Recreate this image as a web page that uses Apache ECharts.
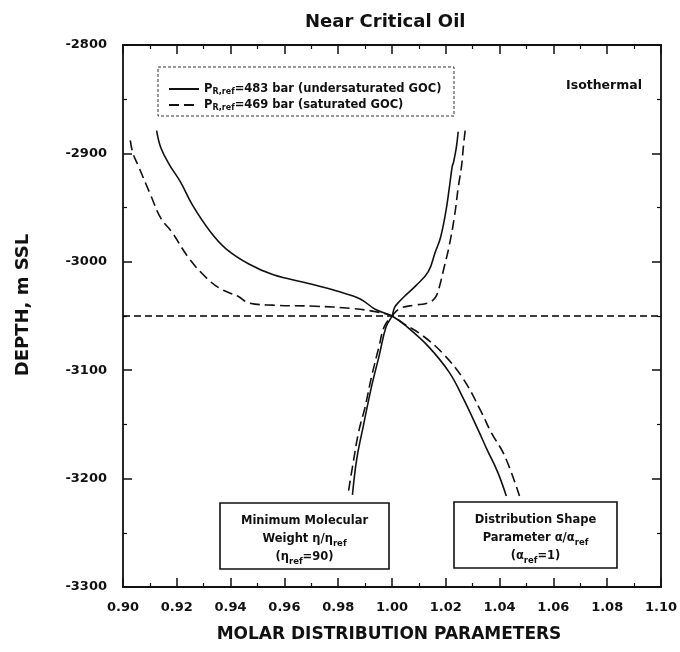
<!DOCTYPE html>
<html>
<head>
<meta charset="utf-8">
<script src="https://cdn.jsdelivr.net/npm/echarts@6/dist/echarts.min.js"></script>
<style>
  html, body { margin: 0; padding: 0; background: #ffffff; }
  #chart { width: 680px; height: 652px; }
</style>
</head>
<body>
<div id="chart"></div>
<script>
// Axis ranges
const paramMin = 0.90, paramMax = 1.10, paramStep = 0.02;
const depthMin = -3300, depthMax = -2800, depthStep = 100;

// Case labels (legend)
const caseUndersat = 'PR,ref=483 bar (undersaturated GOC)';
const caseSat = 'PR,ref=469 bar (saturated GOC)';

// Distribution shape parameter α/αref vs depth
const alphaUndersatX = [0.9125, 0.9141, 0.9174, 0.9213, 0.9259, 0.9324, 0.9383, 0.9468, 0.9559, 0.9690, 0.9795, 0.9880, 0.9939, 1.0000, 1.0056, 1.0135, 1.0213, 1.0265, 1.0322, 1.0353, 1.0393, 1.0425];
const alphaUndersatDepth = [-2879, -2895, -2911, -2926, -2948, -2972, -2988, -3002, -3012, -3020, -3027, -3034, -3044, -3050, -3060, -3078, -3102, -3126, -3156, -3173, -3194, -3216];

const alphaSatX = [0.9027, 0.9037, 0.9056, 0.9102, 0.9141, 0.9180, 0.9246, 0.9311, 0.9363, 0.9429, 0.9468, 0.9559, 0.9716, 0.9847, 0.9939, 1.0000, 1.0043, 1.0108, 1.0187, 1.0265, 1.0331, 1.0368, 1.0419, 1.0474];
const alphaSatDepth = [-2888, -2900, -2911, -2938, -2960, -2972, -2997, -3015, -3025, -3032, -3038, -3040, -3041, -3043, -3046, -3050, -3057, -3067, -3084, -3108, -3138, -3157, -3179, -3216];

// Minimum molecular weight η/ηref vs depth
const etaUndersatX = [1.0246, 1.0239, 1.0229, 1.0224, 1.0213, 1.0200, 1.0180, 1.0161, 1.0135, 1.0089, 1.0050, 1.0030, 1.0010, 1.0000, 0.9978, 0.9952, 0.9925, 0.9893, 0.9869, 0.9853];
const etaUndersatDepth = [-2880, -2895, -2908, -2912, -2932, -2954, -2978, -2991, -3009, -3022, -3031, -3036, -3042, -3050, -3060, -3087, -3114, -3152, -3182, -3215];

const etaSatX = [1.0272, 1.0265, 1.0259, 1.0246, 1.0233, 1.0213, 1.0193, 1.0174, 1.0161, 1.0135, 1.0082, 1.0030, 1.0000, 0.9971, 0.9952, 0.9925, 0.9899, 0.9876, 0.9856, 0.9836];
const etaSatDepth = [-2879, -2895, -2911, -2932, -2957, -2985, -3006, -3025, -3033, -3038, -3040, -3043, -3050, -3060, -3078, -3105, -3135, -3157, -3185, -3215];

// Gas-oil contact line
const gocX = [0.90, 1.10];
const gocDepth = [-3050, -3050];

const FONT = 'DejaVu Sans';
const INK = '#111111';

function pairs(xs, ys) { return xs.map((x, i) => [x, ys[i]]); }

const chart = echarts.init(document.getElementById('chart'), null, { renderer: 'canvas' });

const axisCommon = {
  axisLine: { show: true, lineStyle: { color: INK, width: 1.8 } },
  axisTick: { show: true, inside: true, length: 9, lineStyle: { color: INK, width: 1.5 } },
  minorTick: { show: true, splitNumber: 2, length: 4, lineStyle: { color: INK, width: 1.2 } },
  splitLine: { show: false },
  minorSplitLine: { show: false }
};

const labelStyle = { color: INK, fontFamily: FONT, fontWeight: 'bold', fontSize: 13 };

const solidLine = { color: INK, width: 1.6, type: 'solid' };
const dashLine = { color: INK, width: 1.6, type: [10, 5] };

function curve(name, xs, ys, lineStyle) {
  return {
    name: name,
    type: 'line',
    data: pairs(xs, ys),
    showSymbol: false,
    symbol: 'none',
    smooth: 0.4,
    lineStyle: lineStyle,
    itemStyle: { color: INK },
    emphasis: { disabled: true },
    silent: true,
    z: 3
  };
}

function legendText(name) {
  return name.replace('PR,ref', 'P{s|R,ref}');
}

const boxSub = { fill: INK, font: 'bold 8.5px "DejaVu Sans"', lineHeight: 10, verticalAlign: 'bottom' };

const option = {
  animation: false,
  backgroundColor: '#ffffff',
  grid: { left: 123, right: 17, top: 45, bottom: 65, containLabel: false },
  xAxis: [
    Object.assign({
      type: 'value', min: paramMin, max: paramMax, interval: paramStep, position: 'bottom',
      axisLabel: Object.assign({ margin: 14, formatter: v => v.toFixed(2) }, labelStyle)
    }, axisCommon),
    Object.assign({
      type: 'value', min: paramMin, max: paramMax, interval: paramStep, position: 'top',
      axisLabel: { show: false }
    }, axisCommon)
  ],
  yAxis: [
    Object.assign({
      type: 'value', min: depthMin, max: depthMax, interval: depthStep, position: 'left',
      axisLabel: Object.assign({ margin: 16, formatter: v => String(v) }, labelStyle)
    }, axisCommon),
    Object.assign({
      type: 'value', min: depthMin, max: depthMax, interval: depthStep, position: 'right',
      axisLabel: { show: false }
    }, axisCommon)
  ],
  title: {
    text: 'Near Critical Oil',
    left: 300, top: 8,
    textStyle: { color: INK, fontFamily: FONT, fontWeight: 'bold', fontSize: 18 }
  },
  legend: {
    data: [caseUndersat, caseSat],
    orient: 'vertical',
    left: 158, top: 67,
    padding: [15, 10, 4, 10],
    itemWidth: 30, itemHeight: 14, itemGap: 2,
    selectedMode: false,
    itemStyle: { opacity: 0 },
    formatter: legendText,
    textStyle: {
      color: INK, fontFamily: FONT, fontWeight: 'bold', fontSize: 11.5, lineHeight: 14,
      rich: {
        s: { color: INK, fontFamily: FONT, fontWeight: 'bold', fontSize: 8, lineHeight: 9, verticalAlign: 'bottom' }
      }
    }
  },
  graphic: [
    {
      type: 'rect', silent: true, z: 10,
      shape: { x: 158, y: 67, width: 296, height: 49 },
      style: { fill: null, stroke: '#333333', lineWidth: 1, lineDash: [3, 2] }
    },
    {
      type: 'text', silent: true, z: 10,
      x: 642, y: 86,
      style: { text: 'Isothermal', fill: INK, font: 'bold 12.5px "DejaVu Sans"', textAlign: 'right', textVerticalAlign: 'middle' }
    },
    {
      type: 'text', silent: true, z: 10,
      x: 389, y: 635,
      style: { text: 'MOLAR DISTRIBUTION PARAMETERS', fill: INK, font: 'bold 17px "DejaVu Sans"', textAlign: 'center', textVerticalAlign: 'middle' }
    },
    {
      type: 'text', silent: true, z: 10,
      x: 23, y: 305, rotation: Math.PI / 2,
      style: { text: 'DEPTH, m SSL', fill: INK, font: 'bold 18px "DejaVu Sans"', textAlign: 'center', textVerticalAlign: 'middle' }
    },
    {
      type: 'group', silent: true, z: 10,
      children: [
        {
          type: 'rect',
          shape: { x: 220, y: 503, width: 169, height: 66 },
          style: { fill: '#ffffff', stroke: INK, lineWidth: 1.6 }
        },
        {
          type: 'text',
          x: 304.5, y: 539,
          style: {
            text: 'Minimum Molecular\nWeight η/η{s|ref}\n(η{s|ref}=90)',
            fill: INK, font: 'bold 11.5px "DejaVu Sans"', lineHeight: 18,
            align: 'center', verticalAlign: 'middle',
            rich: { s: boxSub }
          }
        }
      ]
    },
    {
      type: 'group', silent: true, z: 10,
      children: [
        {
          type: 'rect',
          shape: { x: 454, y: 502, width: 163, height: 66 },
          style: { fill: '#ffffff', stroke: INK, lineWidth: 1.6 }
        },
        {
          type: 'text',
          x: 535.5, y: 538,
          style: {
            text: 'Distribution Shape\nParameter α/α{s|ref}\n(α{s|ref}=1)',
            fill: INK, font: 'bold 11.5px "DejaVu Sans"', lineHeight: 18,
            align: 'center', verticalAlign: 'middle',
            rich: { s: boxSub }
          }
        }
      ]
    }
  ],
  series: [
    curve(caseUndersat, alphaUndersatX, alphaUndersatDepth, solidLine),
    curve(caseUndersat, etaUndersatX, etaUndersatDepth, solidLine),
    curve(caseSat, alphaSatX, alphaSatDepth, dashLine),
    curve(caseSat, etaSatX, etaSatDepth, dashLine),
    {
      name: 'GOC',
      type: 'line',
      data: pairs(gocX, gocDepth),
      symbol: 'none',
      lineStyle: { color: '#000000', width: 1.4, type: [7, 4] },
      silent: true,
      z: 2
    }
  ]
};

chart.setOption(option);
</script>
</body>
</html>
